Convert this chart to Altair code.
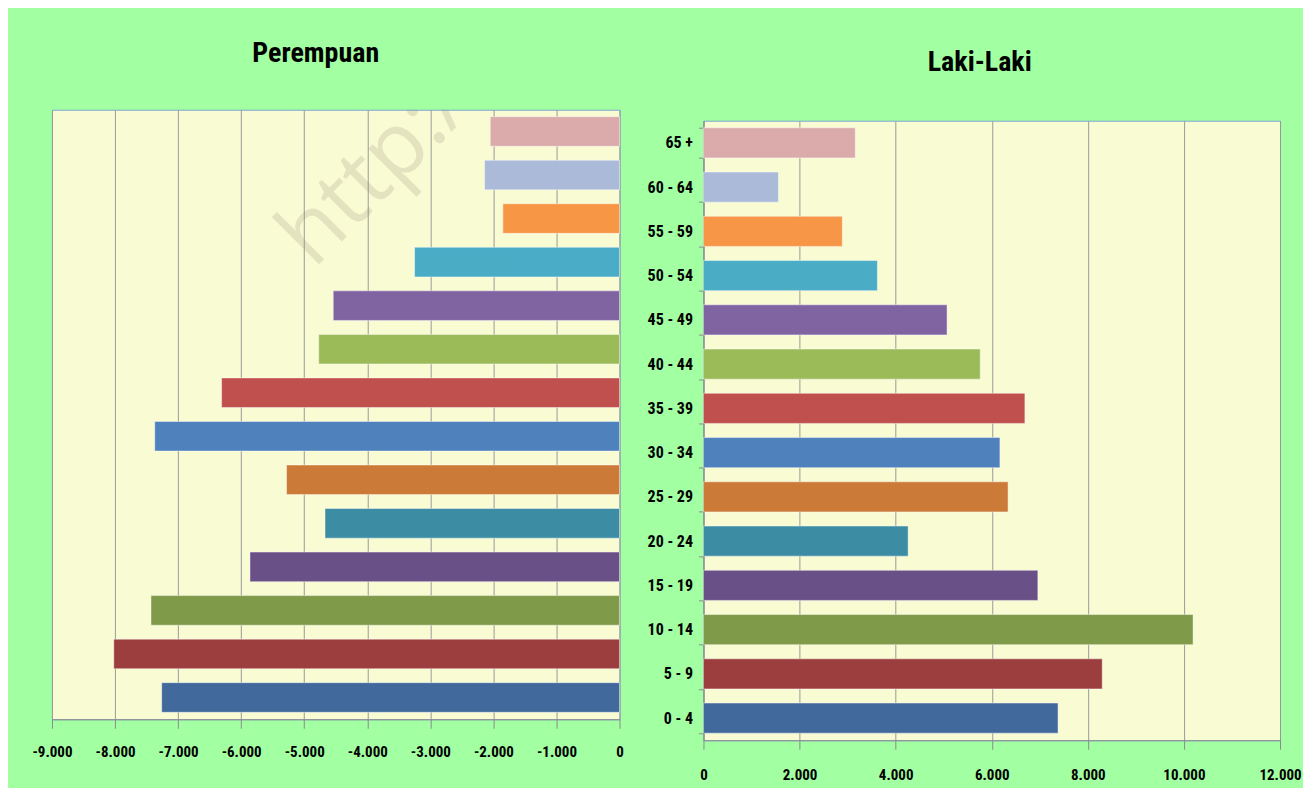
import altair as alt
import pandas as pd

ages = ["0 - 4", "5 - 9", "10 - 14", "15 - 19", "20 - 24", "25 - 29", "30 - 34",
        "35 - 39", "40 - 44", "45 - 49", "50 - 54", "55 - 59", "60 - 64", "65 +"]
female = [7260, 8020, 7430, 5860, 4670, 5280, 7370, 6310, 4770, 4540, 3250, 1850, 2140, 2050]
male = [7380, 8300, 10190, 6960, 4260, 6340, 6170, 6690, 5760, 5070, 3620, 2890, 1560, 3160]
colors = ["#41699c", "#9c3e3e", "#7f9a48", "#695087", "#3c8ca4", "#cb7b37", "#4f81bd",
          "#c0504d", "#9bbb59", "#8064a2", "#4bacc6", "#f79646", "#aabad8", "#dbaaab"]
left_ticks = [-9000, -8000, -7000, -6000, -5000, -4000, -3000, -2000, -1000, 0]
right_ticks = [0, 2000, 4000, 6000, 8000, 10000, 12000]

df = pd.DataFrame({"age": ages, "female": [-v for v in female], "male": male, "color": colors})
order = ages[::-1]

FONT = "Liberation Sans Narrow, Roboto Condensed, Noto Sans Condensed, Liberation Sans, Arial, sans-serif"
LBL = "(datum.value < 0 ? '-' : '') + replace(format(abs(datum.value), ','), ',', '.')"

yscale = alt.Scale(domain=order, paddingInner=0.32, paddingOuter=0.16)

left_bars = alt.Chart(df).mark_bar(stroke="white", strokeOpacity=0.45, strokeWidth=1).encode(
    x=alt.X("female:Q", scale=alt.Scale(domain=[-9000, 0], nice=False),
            axis=alt.Axis(values=left_ticks, labelExpr=LBL, title=None, grid=True,
                          tickSize=9, labelPadding=16, labelFlush=False, labelOverlap=False)),
    y=alt.Y("age:N", sort=order, scale=yscale, axis=None),
    color=alt.Color("color:N", scale=None, legend=None),
)

watermark = alt.Chart(pd.DataFrame({"t": ["http://ppu"]})).mark_text(
    angle=315, align="left", baseline="alphabetic", font="Open Sans", fontSize=88,
    color="#808064", opacity=0.18, clip=True
).encode(text="t:N", x=alt.value(262), y=alt.value(160))

left = alt.layer(left_bars, watermark).properties(
    width=568, height=610,
    title=alt.TitleParams("Perempuan", font=FONT, fontSize=28, fontWeight="bold",
                          color="black", anchor="middle", dx=-20, offset=42),
)

spacer = alt.Chart(pd.DataFrame({"a": [0]})).mark_text(text="", opacity=0).encode(
    x=alt.value(0), y=alt.value(0)
).properties(
    width=577, height=1.5,
    view=alt.ViewBackground(fill="transparent", stroke="transparent"),
    title=alt.TitleParams("Laki-Laki", font=FONT, fontSize=28, fontWeight="bold",
                          color="black", anchor="middle", dx=-12, offset=26.5),
)

right = alt.Chart(df).mark_bar(stroke="white", strokeOpacity=0.45, strokeWidth=1).encode(
    x=alt.X("male:Q", scale=alt.Scale(domain=[0, 12000], nice=False),
            axis=alt.Axis(values=right_ticks, labelExpr=LBL, title=None, grid=True,
                          tickSize=9, labelPadding=18, labelFlush=False, labelOverlap=False)),
    y=alt.Y("age:N", sort=order, scale=yscale,
            axis=alt.Axis(title=None, tickBand="extent", tickSize=5, labelPadding=6,
                          grid=False, labelFontSize=16)),
    color=alt.Color("color:N", scale=None, legend=None),
).properties(width=577, height=620)

chart = alt.hconcat(left, alt.vconcat(spacer, right, spacing=-4), spacing=22).properties(
    padding={"left": 23, "top": 30.5, "right": 1, "bottom": 4},
    background="#a2ffa2",
).configure_view(
    fill="#f9fbd3", stroke="#7ea6d6", strokeWidth=1
).configure_axis(
    labelFont=FONT, labelFontSize=15, labelFontWeight="bold", labelColor="black",
    domainColor="#8c8c8c", tickColor="#8c8c8c", gridColor="#9a9a9a",
    domainWidth=1, tickWidth=1, gridWidth=1,
)

chart.save("out.html", embed_options={"renderer": "svg", "actions": False})
